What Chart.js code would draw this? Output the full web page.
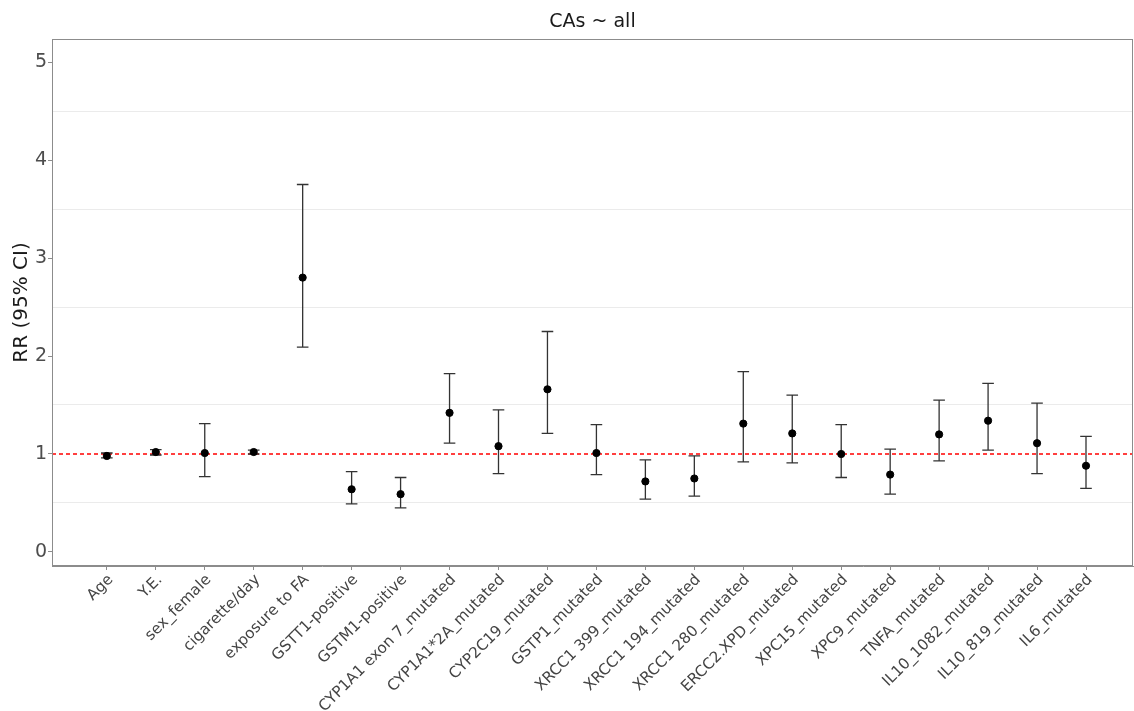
<!DOCTYPE html>
<html>
<head>
<meta charset="utf-8">
<script src="https://cdn.jsdelivr.net/npm/chart.js@4/dist/chart.umd.min.js"></script>
<style>
html,body{margin:0;padding:0;background:#fff;}
#wrap{width:1134px;height:711px;position:relative;}
</style>
</head>
<body>
<div id="wrap"><canvas id="c" width="1134" height="711"></canvas></div>
<script>
const categories = ["Age","Y.E.","sex_female","cigarette/day","exposure to FA","GSTT1-positive","GSTM1-positive","CYP1A1 exon 7_mutated","CYP1A1*2A_mutated","CYP2C19_mutated","GSTP1_mutated","XRCC1 399_mutated","XRCC1 194_mutated","XRCC1 280_mutated","ERCC2.XPD_mutated","XPC15_mutated","XPC9_mutated","TNFA_mutated","IL10_1082_mutated","IL10_819_mutated","IL6_mutated"];
const rr    = [0.98,1.02,1.01,1.02,2.80,0.64,0.59,1.42,1.08,1.66,1.01,0.72,0.75,1.31,1.21,1.00,0.79,1.20,1.34,1.11,0.88];
const lower = [0.96,0.99,0.77,1.00,2.09,0.49,0.45,1.11,0.80,1.21,0.79,0.54,0.57,0.92,0.91,0.76,0.59,0.93,1.04,0.80,0.65];
const upper = [1.01,1.045,1.31,1.04,3.75,0.82,0.76,1.82,1.45,2.25,1.30,0.94,0.98,1.84,1.60,1.30,1.05,1.55,1.72,1.52,1.18];
const yTicks = [0,0.5,1,1.5,2,2.5,3,3.5,4,4.5,5];
const refValue = 1;
const titleText = "CAs ~ all";
const yTitle = "RR (95% CI)";

const FONT = "'DejaVu Sans', sans-serif";

const errorBars = {
  id: 'errorBars',
  beforeDatasetsDraw(chart) {
    const {ctx, scales:{x, y}, chartArea:a} = chart;
    ctx.save();
    ctx.strokeStyle = '#ff0000';
    ctx.lineWidth = 1.3;
    ctx.setLineDash([4, 3]);
    const yr = y.getPixelForValue(refValue);
    ctx.beginPath(); ctx.moveTo(a.left, yr); ctx.lineTo(a.right, yr); ctx.stroke();
    ctx.setLineDash([]);
    ctx.strokeStyle = '#333333';
    ctx.lineWidth = 1.3;
    const cap = 5.8;
    categories.forEach((c, i) => {
      const px = x.getPixelForValue(i);
      const lo = y.getPixelForValue(lower[i]);
      const hi = y.getPixelForValue(upper[i]);
      ctx.beginPath();
      ctx.moveTo(px, lo); ctx.lineTo(px, hi);
      ctx.moveTo(px - cap, lo); ctx.lineTo(px + cap, lo);
      ctx.moveTo(px - cap, hi); ctx.lineTo(px + cap, hi);
      ctx.stroke();
    });
    ctx.restore();
  },
  afterDraw(chart) {
    const {ctx, chartArea:a} = chart;
    ctx.save();
    ctx.strokeStyle = '#8c8c8c';
    ctx.lineWidth = 1;
    ctx.strokeRect(a.left + 0.5, a.top + 0.5, a.right - a.left - 1, a.bottom - a.top - 1);
    ctx.fillStyle = '#1a1a1a';
    ctx.font = "19px " + FONT;
    ctx.textAlign = 'center';
    ctx.textBaseline = 'middle';
    ctx.fillText(titleText, (a.left + a.right) / 2, 22);
    ctx.restore();
  }
};

new Chart(document.getElementById('c'), {
  type: 'scatter',
  data: {
    datasets: [{
      data: rr.map((v, i) => ({x: i, y: v})),
      backgroundColor: '#000',
      borderColor: '#000',
      pointRadius: 3.6,
      pointHoverRadius: 3.6
    }]
  },
  options: {
    responsive: false,
    animation: false,
    layout: {autoPadding: false, padding: {left: 0, right: 1, top: 39, bottom: 0}},
    plugins: {
      legend: {display: false},
      tooltip: {enabled: false},
      title: {display: false}
    },
    scales: {
      x: {
        type: 'linear', min: -1.12, max: 20.96,
        afterBuildTicks: s => { s.ticks = categories.map((c, i) => ({value: i})); },
        afterFit: s => { s.height = 145; s.paddingLeft = 0; s.paddingRight = 0; },
        grid: {drawOnChartArea: false, tickLength: 4, color: '#8c8c8c', tickColor: '#8c8c8c'},
        border: {color: '#8c8c8c', width: 1},
        ticks: {
          autoSkip: false, minRotation: 45, maxRotation: 45, padding: 1, labelOffset: 4,
          color: '#444444', font: {family: FONT, size: 15.2},
          callback: v => categories[v] !== undefined ? categories[v] : ''
        }
      },
      y: {
        type: 'linear', min: -0.143, max: 5.235,
        afterBuildTicks: s => { s.ticks = yTicks.map(v => ({value: v})); },
        afterFit: s => { s.width = 52; s.paddingTop = 0; s.paddingBottom = 0; },
        grid: {
          tickLength: 4,
          color: c => (c.tick && c.tick.value % 1 !== 0) ? '#ebebeb' : 'rgba(0,0,0,0)',
          tickColor: c => (c.tick && c.tick.value % 1 === 0) ? '#8c8c8c' : 'rgba(0,0,0,0)'
        },
        border: {color: '#8c8c8c', width: 1},
        title: {display: true, text: yTitle, color: '#1a1a1a', font: {family: FONT, size: 20, lineHeight: 1.2}, padding: {top: 10, bottom: 0}},
        ticks: {
          padding: 1, color: '#4d4d4d', font: {family: FONT, size: 19},
          callback: v => (v % 1 === 0) ? String(v) : ''
        }
      }
    }
  },
  plugins: [errorBars]
});
</script>
</body>
</html>
